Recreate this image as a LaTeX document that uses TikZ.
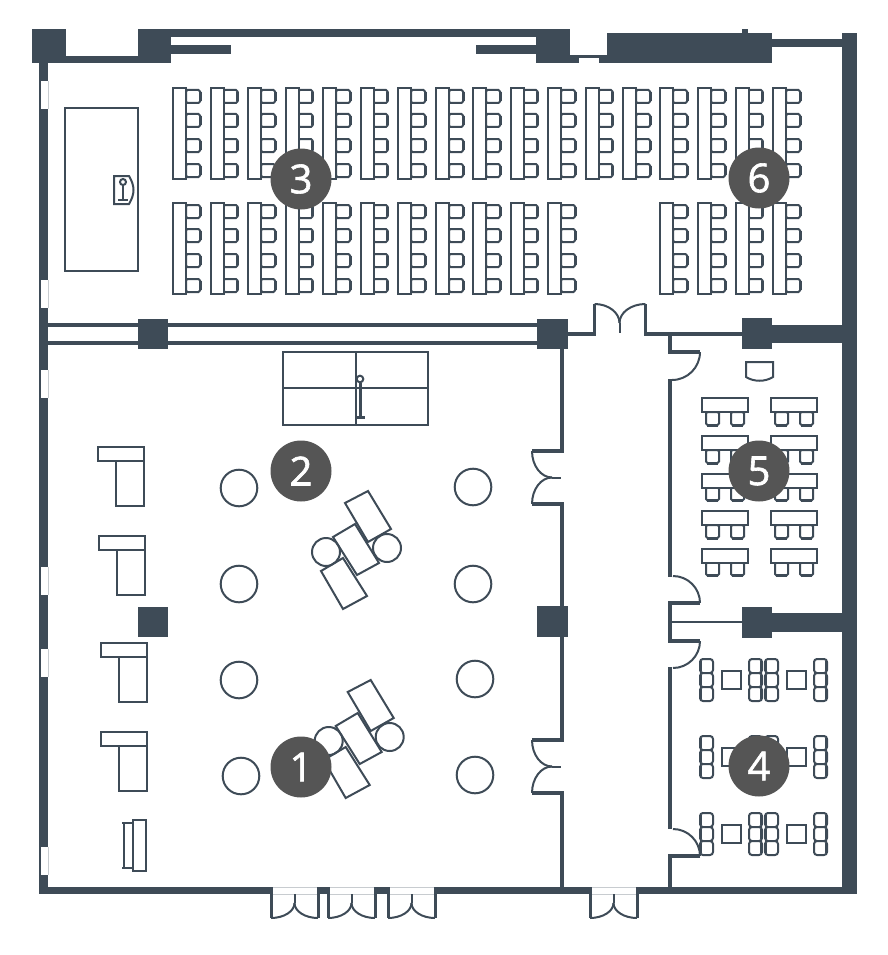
\documentclass[tikz,border=0pt]{standalone}
\usepackage{fontspec}
\setmainfont[FakeBold=1.5]{Open Sans}
\definecolor{wallcol}{HTML}{3E4B57}
\definecolor{badgecol}{HTML}{555555}
\definecolor{glasscol}{HTML}{C8CCD0}
\tikzset{
    wall/.style = {fill=wallcol,draw=none},
    glass/.style = {fill=white,draw=none},
    wallline/.style = {draw=wallcol,line width=3.5},
    furn/.style = {draw=wallcol,line width=2},
    badge/.style = {circle,fill=badgecol,text=white,minimum size=61,inner sep=0,font=\fontsize{40}{40}\selectfont},
    chairright/.pic = {
        \draw[furn,rounded corners=1.5,fill=white] (0,0) -- (14,0) -- (14,13) -- (0,13) -- cycle;
        \draw[wallcol,line width=3] (14,2) -- (14,11);
        },
    chairdown/.pic = {
        \draw[furn,rounded corners=1.5,fill=white] (0,-1) -- (0,12) -- (13,12) -- (13,-1) -- cycle;
        \draw[wallcol,line width=3] (1,12) -- (12,12);
        },
    seat/.pic = {
        \draw[furn,rounded corners=3,fill=white] (0,0) rectangle (13,14);
        \draw[wallcol,line width=2.6] (#1,2) -- (#1,12);
        },
    deskcol/.pic = {
        \foreach \dy in {2,26,51,76} { \pic at (13,\dy) {chairright}; }
        \draw[furn,fill=white] (0,0) rectangle (13,91);
        },
    deskrow/.pic = {
        \pic at (4,15) {chairdown};
        \pic at (29,15) {chairdown};
        \draw[furn,fill=white] (0,0) rectangle (46,14);
        },
    sofa/.pic = {
        \draw[furn] (0,0) rectangle (46,14);
        \draw[furn] (18,14) -- (18,59) -- (46,59) -- (46,14);
        },
    tablegroup/.pic = {
        \draw[furn] (326,552) circle (14);
        \draw[furn] (387,548) circle (14);
        \draw[furn] (333,537) -- (355,524) -- (379,563) -- (357,575) -- cycle;
        \draw[furn] (345,503) -- (368,491) -- (391,529) -- (368,542) -- cycle;
        \draw[furn] (321,571) -- (343,558) -- (367,596) -- (343,609) -- cycle;
        },
}

\begin{document}
\begin{tikzpicture}[
        x = 1pt,
        y = -1pt,
        ]
        \useasboundingbox (0,0) rectangle (887,955);

        % Outer walls
        \fill[wall] (32,29) rectangle (66,63);
        \fill[wall] (138,29) rectangle (171,63);
        \fill[wall] (66,56) rectangle (138,63);
        \fill[wall] (171,29) rectangle (536,37);
        \fill[wall] (171,45) rectangle (231,54);
        \fill[wall] (476,45) rectangle (536,54);
        \fill[wall] (536,29) rectangle (570,63);
        \fill[wall] (570,55) rectangle (607,63);
        \fill[glass] (579,58) rectangle (599,63);
        \fill[wall] (607,33) rectangle (772,63);
        \fill[wall] (742,29) rectangle (748,33);
        \fill[wall] (772,39) rectangle (842,47);
        \fill[wall] (842,33) rectangle (857,894);
        \fill[wall] (39,63) rectangle (48,894);

        % Windows
        \foreach \wy in {81,280,370,567,649,847} {
            \fill[glass] (41,\wy) rectangle (48,\wy+28);
            \draw[glasscol,line width=0.7] (48,\wy) -- (48,\wy+28);
        }

        % Bottom wall
        \fill[wall] (39,887) rectangle (271,894);
        \fill[wall] (318,887) rectangle (328,894);
        \fill[wall] (375,887) rectangle (388,894);
        \fill[wall] (435,887) rectangle (590,894);
        \fill[wall] (637,887) rectangle (857,894);

        % Outer doors
        \foreach \dx in {271,328,388,590} {
            \draw[glasscol,line width=0.6] (\dx,887) -- (\dx+47,887);
            \draw[glasscol,line width=0.6] (\dx,894) -- (\dx+47,894);
            \draw[wallcol,line width=3] (\dx,887) -- (\dx,918);
            \draw[wallcol,line width=3] (\dx+47,887) -- (\dx+47,918);
            \draw[furn] (\dx,918) arc[start angle=90,end angle=0,x radius=23.5,y radius=15];
            \draw[furn] (\dx+47,918) arc[start angle=90,end angle=180,x radius=23.5,y radius=15];
            \draw[furn] (\dx+23.5,903) -- (\dx+23.5,894);
        }

        % Inner walls
        \draw[wallcol,line width=3.6] (48,325) -- (540,325);
        \draw[wallcol,line width=3.6] (48,343) -- (540,343);
        \fill[wall] (138,319) rectangle (168,349);
        \fill[wall] (537,319) rectangle (568,349);
        \fill[wall] (742,318) rectangle (772,349);
        \fill[wall] (772,325) rectangle (842,343);
        \fill[wall] (742,607) rectangle (772,638);
        \fill[wall] (772,613) rectangle (842,632);
        \fill[wall] (537,606) rectangle (568,637);
        \draw[wallline] (568,334) -- (594.5,334) -- (594.5,304);
        \draw[wallline] (742,334) -- (645.5,334) -- (645.5,304);
        \draw[furn] (594.5,304) arc[start angle=-90,end angle=0,x radius=25,y radius=19];
        \draw[furn] (645.5,304) arc[start angle=-90,end angle=-180,x radius=26,y radius=19];
        \draw[furn] (619.5,323) -- (619.5,333);

        % Corridor left wall
        \draw[wallline] (562,349) -- (562,451) -- (532,451);
        \draw[wallline] (532,504) -- (562,504) -- (562,740) -- (532,740);
        \draw[wallline] (532,793) -- (562,793) -- (562,888);
        \foreach \ty in {451,740} {
            \draw[furn] (532,\ty) arc[start angle=180,end angle=90,x radius=20,y radius=26.5];
            \draw[furn] (532,\ty+53) arc[start angle=180,end angle=270,x radius=20,y radius=26.5];
            \draw[furn] (552,\ty+26.5) -- (561,\ty+26.5);
        }

        % Corridor right wall
        \draw[wallline] (670,335) -- (670,352) -- (700,352);
        \draw[wallline] (670,379) -- (670,577);
        \draw[wallline] (700,603) -- (670,603) -- (670,641) -- (700,641);
        \draw[wallline] (670,667) -- (670,829);
        \draw[wallline] (700,856) -- (670,856) -- (670,888);
        \draw[furn] (672,622) -- (742,622);
        \draw[furn] (700,352) arc[start angle=0,end angle=90,radius=28];
        \draw[furn] (700,603) arc[start angle=0,end angle=-90,radius=27];
        \draw[furn] (700,641) arc[start angle=0,end angle=90,radius=27];
        \draw[furn] (700,856) arc[start angle=0,end angle=-90,radius=27];

        % Room 3 and 6
        \draw[furn] (65,108) rectangle (138,271);
        \draw[furn] (114,176) -- (129,176) .. controls (135,186) and (135,194) .. (129,204) -- (114,204) -- cycle;
        \draw[furn] (123,182) circle (3);
        \draw[wallcol,line width=2.2] (123,185) -- (123,200);
        \draw[wallcol,line width=2.4] (118,200) -- (128,200);
        \foreach \cx in {173,210.5,248,285.5,323,360.5,398,436,473,510.5,548,585.5,623,660,698,735.5,773} {
            \pic at (\cx,88) {deskcol};
        }
        \foreach \cx in {173,210.5,248,285.5,323,360.5,398,436,473,510.5,548,660,698,735.5,773} {
            \pic at (\cx,203) {deskcol};
        }

        % Room 2 and 1
        \draw[furn] (283,352) rectangle (428,425);
        \draw[furn] (356,352) -- (356,425);
        \draw[furn] (283,388) -- (428,388);
        \draw[furn,fill=white] (360,379) circle (3.3);
        \draw[wallcol,line width=3] (360,383) -- (360,417);
        \draw[wallcol,line width=3] (357,417) -- (365,417);
        \foreach \px/\py in {239/488,239/584,239/680,241/776,473/487,473/584,475/679,475/775} {
            \draw[furn] (\px,\py) circle (18.3);
        }
        \pic at (0,0) {tablegroup};
        \pic at (2.7,189) {tablegroup};
        \pic at (98,447) {sofa};
        \pic at (99,536) {sofa};
        \pic at (101,643) {sofa};
        \pic at (101,732) {sofa};
        \fill[wall] (138,607) rectangle (168,637);
        \draw[furn] (133,820) rectangle (146,871);
        \draw[furn] (124,823) -- (124,868);
        \draw[wallcol,line width=2.6] (122,823) -- (133,823);
        \draw[wallcol,line width=2.6] (122,868) -- (133,868);

        % Room 5
        \draw[furn] (746,362) -- (773,362) -- (773,377) .. controls (765,382) and (754,382) .. (746,377) -- cycle;
        \foreach \ry in {398,436,473.5,511,548.5} {
            \pic at (702,\ry) {deskrow};
            \pic at (771,\ry) {deskrow};
        }

        % Room 4
        \foreach \ry in {0,77,154} {
            \foreach \sy in {659,673,687} {
                \pic at (700,\sy+\ry) {seat=1};
                \pic at (749,\sy+\ry) {seat=12};
                \pic at (765,\sy+\ry) {seat=1};
                \pic at (814,\sy+\ry) {seat=12};
            }
            \draw[furn] (722,671+\ry) rectangle (741,689+\ry);
            \draw[furn] (787,671+\ry) rectangle (806,689+\ry);
        }

        % Room numbers
        \node[badge] (roomone) at (301,767) {1};
        \node[badge] (roomtwo) at (301,471) {2};
        \node[badge] (roomthree) at (301,179) {3};
        \node[badge] (roomfour) at (759,766) {4};
        \node[badge] (roomfive) at (759,471) {5};
        \node[badge] (roomsix) at (759,178) {6};
    \end{tikzpicture}
\end{document}
